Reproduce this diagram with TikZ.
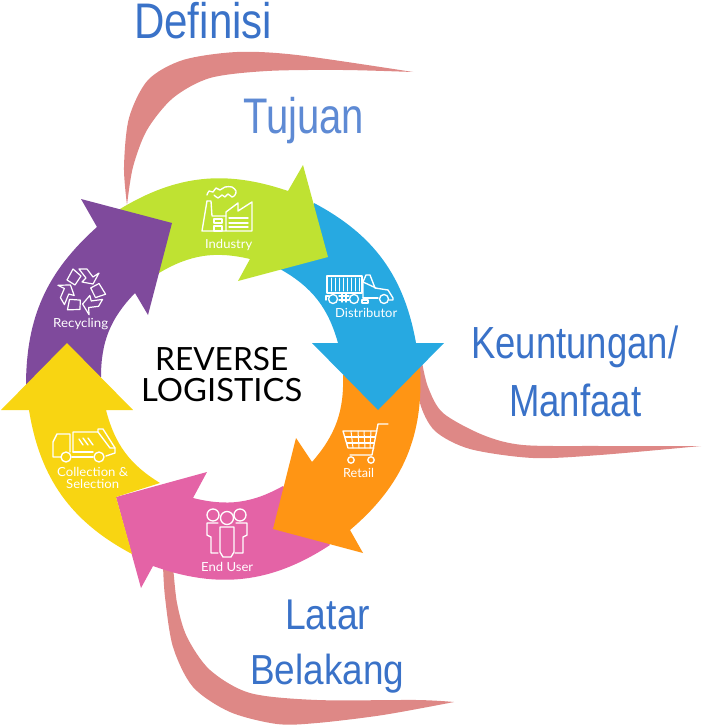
\documentclass[tikz,border=0pt]{standalone}
\usepackage{fontspec}
\usepackage{graphicx}
\setmainfont{Liberation Sans}
\newfontfamily\labfont{Lato}
\definecolor{cgreen}{HTML}{BFE232}
\definecolor{cblue}{HTML}{27A9E1}
\definecolor{corange}{HTML}{FF9514}
\definecolor{cpink}{HTML}{E463A6}
\definecolor{cyellow}{HTML}{F8D512}
\definecolor{cpurple}{HTML}{7F4A9C}
\definecolor{cswoosh}{HTML}{DE8886}
\definecolor{ctitle}{HTML}{3A72C8}
\definecolor{ctitlelight}{HTML}{5E8AD4}
\newcommand{\fitw}[3]{\resizebox{#1pt}{\height}{\fontsize{#2}{#2}\selectfont #3}}
\tikzset{
  swoosh/.style={fill=cswoosh,draw=none},
  ringarrow/.style={draw=none},
  iconline/.style={draw=white,line width=1.35pt,line join=round,line cap=round},
  heading/.style={inner sep=0pt,anchor=base west,text=ctitle},
  ringlabel/.style={inner sep=0pt,anchor=base west,text=white,font=\labfont},
  centertext/.style={inner sep=0pt,anchor=base west,text=black,font=\labfont},
}
\begin{document}
\begin{tikzpicture}[x=1pt,y=-1pt]
\useasboundingbox (0,0) rectangle (701,725);
% swooshes
\fill[swoosh] plot[smooth] coordinates {(127,205) (124,167) (129,118) (148,80) (183,60) (237,52) (297,55) (413,72)}
  -- plot[smooth] coordinates {(413,72) (343,70) (267,71) (210,78) (173,98) (147,130) (133,167) (127,205)} -- cycle;
\fill[swoosh] plot[smooth] coordinates {(419,370) (420,403) (435,431) (470,449) (533,458) (600,455) (701,446)}
  -- plot[smooth] coordinates {(701,446) (600,446) (523,445) (483,435) (443,413) (428,387) (422,362)} -- cycle;
\fill[swoosh] plot[smooth] coordinates {(163,565) (165,597) (173,647) (193,687) (230,712) (277,724) (317,723) (383,715) (454,702)}
  -- plot[smooth] coordinates {(454,702) (417,700) (317,700) (250,693) (210,670) (187,637) (177,603) (173,565)} -- cycle;
% ring arrows
\fill[ringarrow,cpink] (305,510) -- (330,545) to[bend left=26.5] (153,566) -- (141,588) -- (116,497) -- (207,472) -- (193,498) to[bend right=21.5] (283,486) -- cycle;
\fill[ringarrow,corange] (378,380) -- (420,367) to[bend left=26.5] (350,530) -- (363,553) -- (273,529) -- (296,438) -- (312,462) to[bend right=21.5] (343,375) -- cycle;
\fill[ringarrow,cblue] (300,240) -- (314,203) to[bend left=26] (416,343) -- (444,343) -- (378,410) -- (312,343) -- (338,343) to[bend right=22.5] (280,269) -- cycle;
\fill[ringarrow,cgreen] (135,235) -- (120,209) to[bend left=25] (288,191) -- (303,165) -- (328,257) -- (238,281) -- (250,259) to[bend right=22] (159,273) -- cycle;
\fill[ringarrow,cpurple] (67,380) -- (26,385) to[bend left=24] (97,227) -- (81,199) -- (172,223) -- (148,315) -- (135,293) to[bend right=22] (101,377) -- cycle;
\fill[ringarrow,cyellow] (116,497) -- (132,554) to[bend left=26.5] (29,410) -- (1,410) -- (67,343) -- (133,410) -- (106,410) to[bend right=22] (160,483) -- cycle;
% factory icon
\draw[iconline] (207,201) -- (211,201) -- (212,216) -- (226,216);
\draw[iconline] (207,201) -- (202,231) -- (252,231) -- (252,202) -- (238,211) -- (238,203) -- (226,212) -- (226,231);
\draw[iconline] (214,219) rectangle (222,223) (214,226) rectangle (222,231);
\draw[iconline] (229,218) -- (248,218) (229,223) -- (248,223) (229,227) -- (248,227);
\draw[iconline] plot[smooth] coordinates {(207,195) (209,191) (213,192) (216,188) (220,190) (225,187) (232,187) (236,191) (235,195) (232,197) (228,194) (225,197) (222,195) (218,198) (214,195)};
% truck icon
\draw[iconline] (327,276) rectangle (362,293);
\foreach \bx in {331,335,339,343,347,351,355,359} {\draw[iconline,line width=1pt] (\bx,278) -- (\bx,291);}
\draw[iconline] (363,298) -- (363,282) -- (366,275) -- (370,275) -- (375,288) -- (388,290) -- (393,298) -- (393,300) -- (389,300);
\draw[iconline] (363,282) -- (376,288);
\draw[iconline] (363,298) -- (378,298);
\draw[iconline] (326,300) -- (326,296) -- (329,296);
\draw[iconline] (339,296) -- (349,296) (339,300) -- (349,300) (342,294) -- (342,302) (346,294) -- (346,302);
\draw[iconline] (362,300) rectangle (368,303);
\draw[iconline] (333,299) circle[radius=4.5] (354,299) circle[radius=4.5] (384,299) circle[radius=4.5];
% recycling icon
\foreach \ang in {0,120,240} {
  \begin{scope}[rotate around={\ang:(82,291)}]
    \draw[iconline,line width=1.2pt] (67,280) -- (73,269) -- (81,276) -- (75,285) -- cycle;
    \draw[iconline,line width=1.2pt] (79,269) -- (87,269) -- (93,277) -- (99,273) -- (93,284) -- (82,282) -- (86,278) -- cycle;
  \end{scope}
}
% garbage truck icon
\draw[iconline] (61,457) -- (53,457) -- (53,442) -- (57,434) -- (70,434) -- (70,452);
\draw[iconline] (73,452) -- (73,432) -- (98,432) -- (98,429) -- (103,429) -- (115,448) -- (115,453) -- (106,456);
\draw[iconline] (98,432) -- (110,448) -- (115,448);
\draw[iconline] (73,452) -- (93,452) (72,457) -- (93,457);
\draw[iconline] (79,439) -- (83,445) (83,438) -- (88,445) (88,438) -- (93,445);
\draw[iconline] (66,457) circle[radius=5] (99,457) circle[radius=5];
% people icon
\draw[iconline] (213,515) circle[radius=6] (240,515) circle[radius=6];
\draw[iconline] (218,523) -- (207,523) -- (207,535) -- (211,537) -- (211,553) -- (218,553);
\draw[iconline] (236,523) -- (247,523) -- (247,535) -- (243,537) -- (243,553) -- (235,553);
\draw[iconline,fill=cpink] (220,527) -- (220,552) -- (223,557) -- (231,557) -- (234,552) -- (234,527) -- cycle;
\draw[iconline,fill=cpink] (227,518) circle[radius=6.5];
% cart icon
\draw[iconline] (388,424) -- (378,424) -- (372,455) -- (350,455);
\draw[iconline] (343,431) -- (377,431) (343,431) -- (348,448) -- (374,448);
\draw[iconline] (345,437) -- (375,437) (347,443) -- (374,443);
\draw[iconline,line width=1pt] (351,431) -- (353,448) (358,431) -- (359,448) (364,431) -- (365,448) (371,431) -- (370,448);
\draw[iconline] (351,460) circle[radius=3.2] (371,460) circle[radius=3.2];
% ring labels
\node[ringlabel] (lindustry) at (205,248.5) {\fitw{47}{12.5}{Industry}};
\node[ringlabel] (ldistributor) at (335,317) {\fitw{62}{12.5}{Distributor}};
\node[ringlabel] (lrecycling) at (53,327) {\fitw{55}{12.5}{Recycling}};
\node[ringlabel] (lcollection) at (57,476.5) {\fitw{71}{12.5}{Collection \&}};
\node[ringlabel] (lselection) at (66,488.5) {\fitw{53}{12.5}{Selection}};
\node[ringlabel] (lenduser) at (201,571) {\fitw{52}{12.5}{End User}};
\node[ringlabel] (lretail) at (343,477) {\fitw{31}{12.5}{Retail}};
% centre
\node[centertext] (crev) at (155,370) {\fitw{133}{32}{REVERSE}};
\node[centertext] (clog) at (141,401) {\fitw{161}{32}{LOGISTICS}};
% headings
\node[heading] (hdef) at (134,38.5) {\fitw{138}{50}{Definisi}};
\node[heading,text=ctitlelight] (htuj) at (243,133) {\fitw{121}{50}{Tujuan}};
\node[heading] (hkeu) at (471,358) {\fitw{207}{45}{Keuntungan/}};
\node[heading] (hman) at (509,416) {\fitw{132}{45}{Manfaat}};
\node[heading] (hlat) at (285,629) {\fitw{85}{43}{Latar}};
\node[heading] (hbel) at (250,684) {\fitw{154}{42}{Belakang}};
\end{tikzpicture}
\end{document}
